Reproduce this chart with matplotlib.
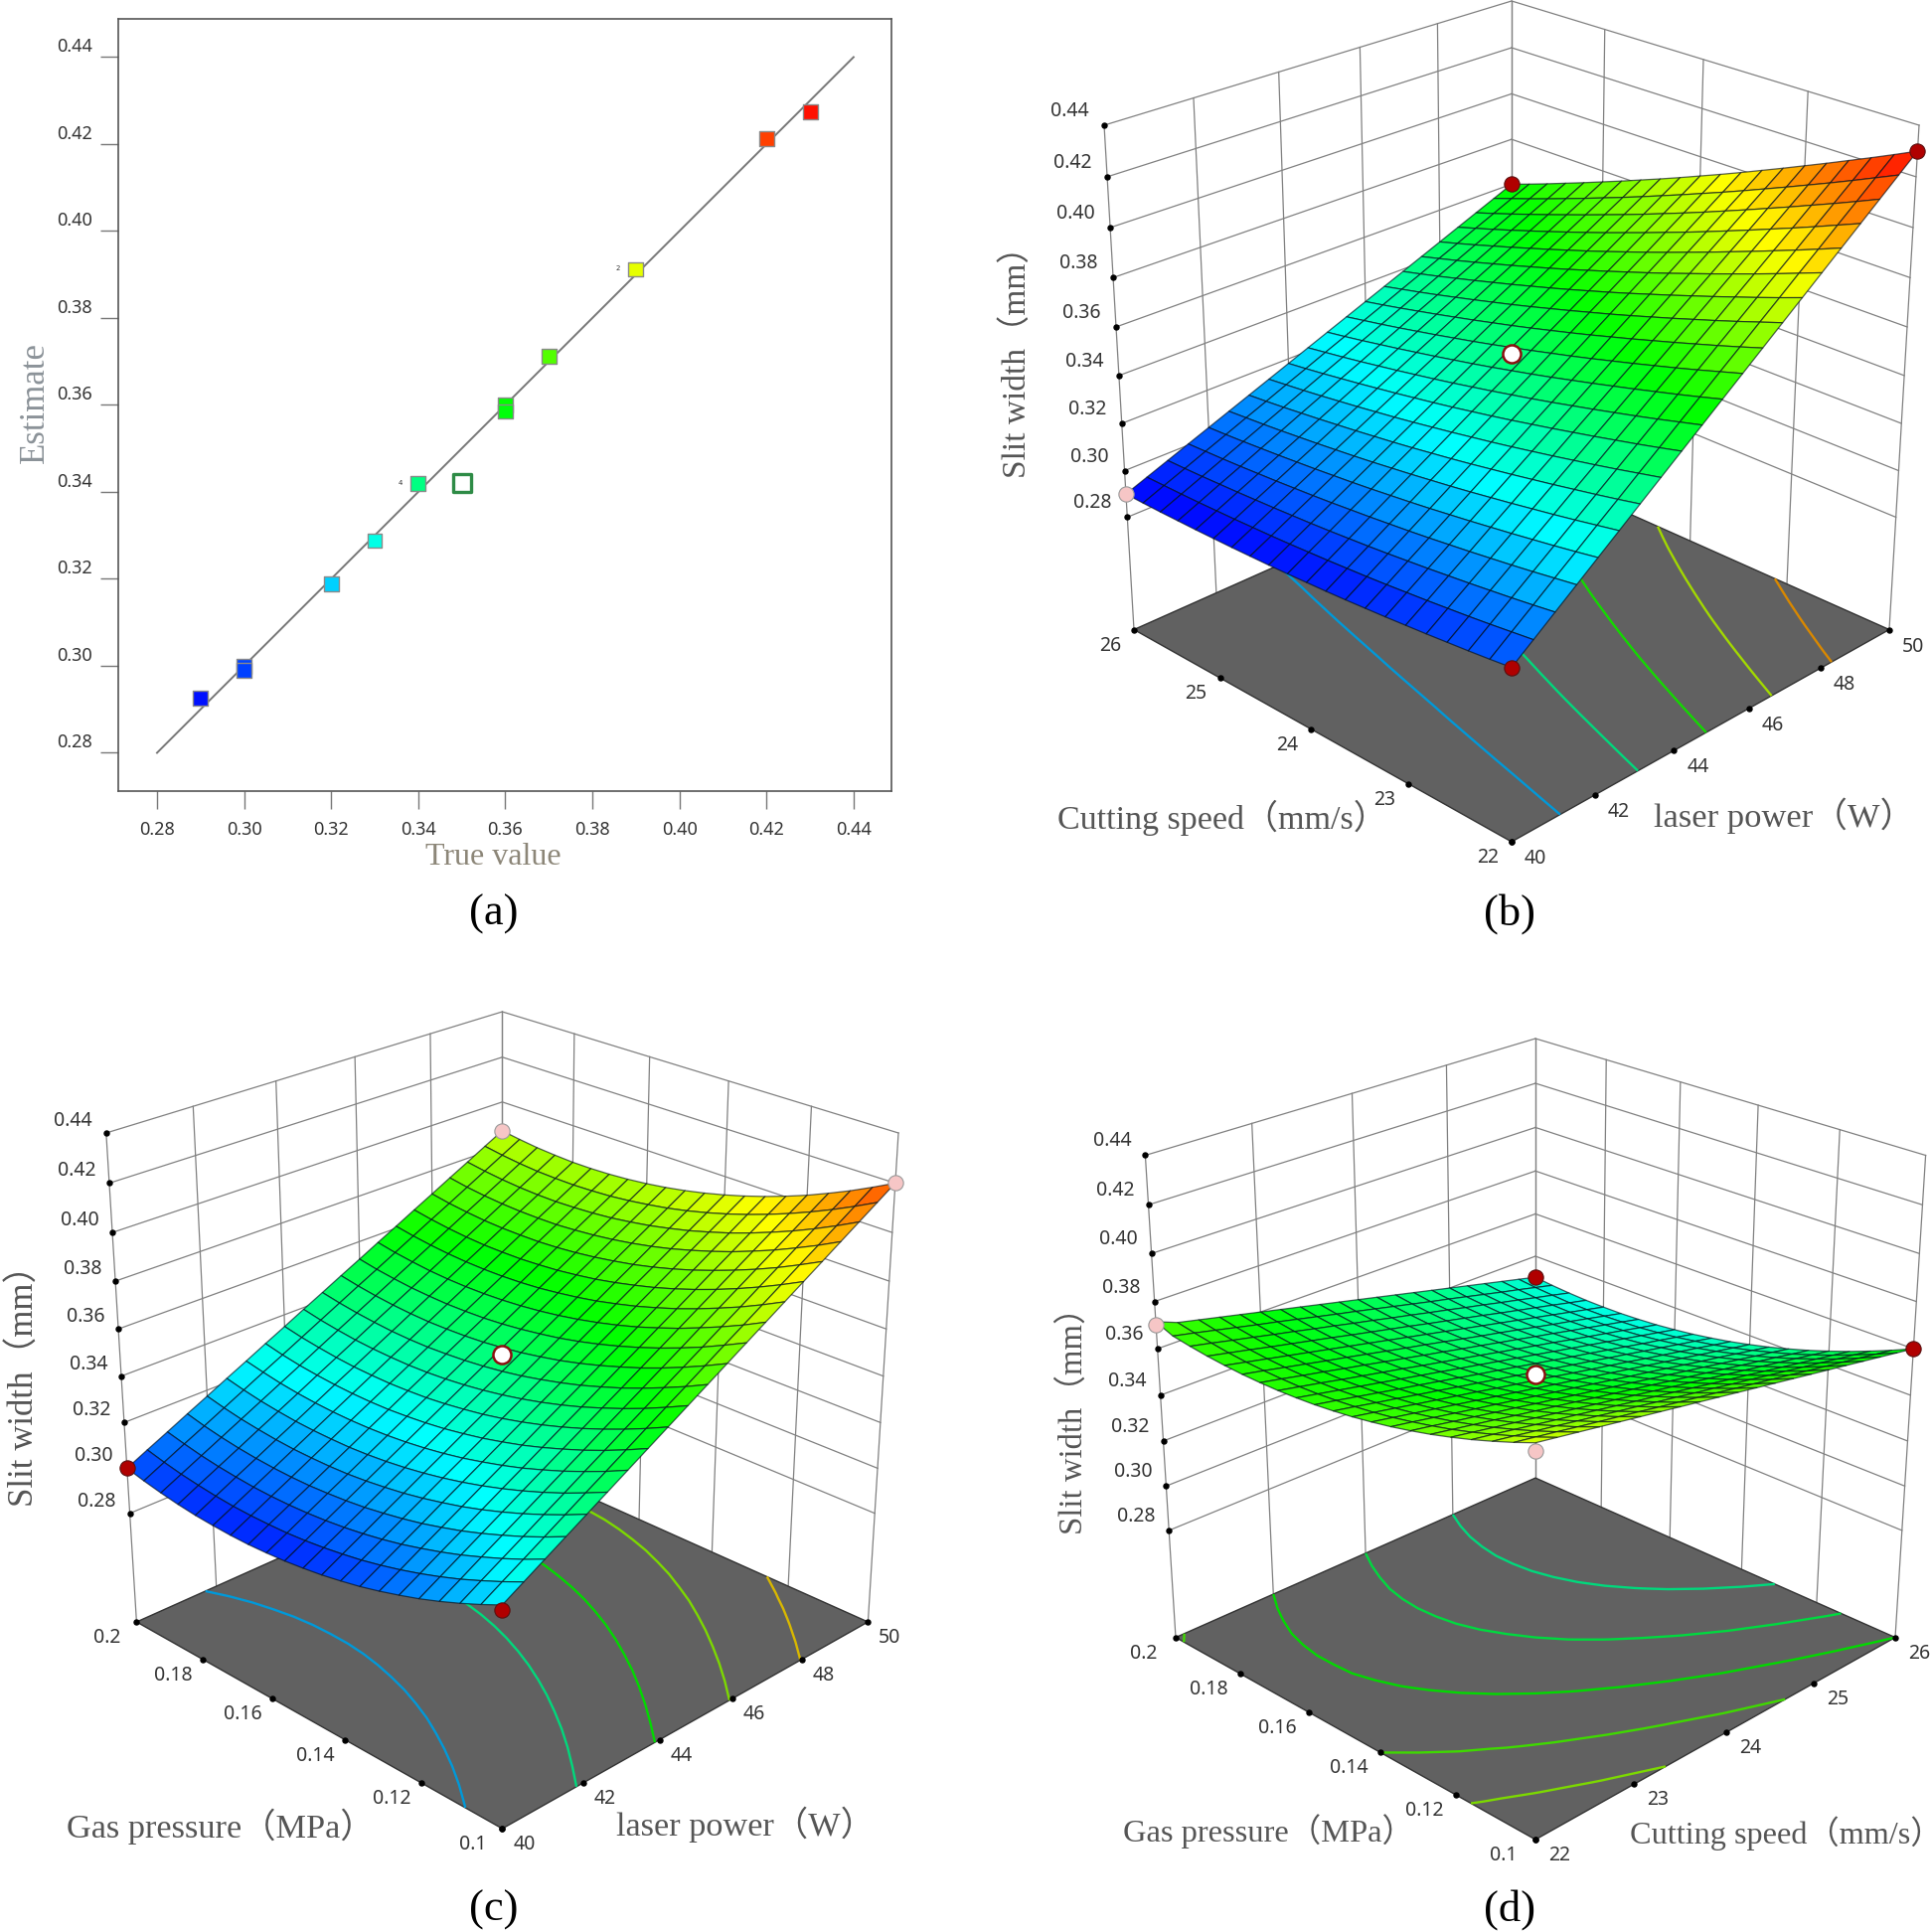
import numpy as np
import matplotlib
matplotlib.use("Agg")
import matplotlib.pyplot as plt
from matplotlib.colors import LinearSegmentedColormap, Normalize
from mpl_toolkits.mplot3d import proj3d

W, H = 1942, 1944
SERIF = ["Liberation Serif", "Noto Sans CJK SC"]
SANS = "Noto Sans"

# panel (a) points
true_vals = [0.29, 0.30, 0.30, 0.32, 0.33, 0.34, 0.36, 0.36, 0.37, 0.39, 0.42, 0.43]
est_vals = [0.2925, 0.2998, 0.299, 0.3188, 0.3288, 0.342, 0.36, 0.3585, 0.3712, 0.3912, 0.4212, 0.4275]
center_true = 0.35
center_est = 0.342
line_ends = [0.28, 0.44]
a_ticks = [0.28, 0.30, 0.32, 0.34, 0.36, 0.38, 0.40, 0.42, 0.44]

z_ticks = [0.28, 0.30, 0.32, 0.34, 0.36, 0.38, 0.40, 0.42, 0.44]
z_floor = 0.2305
z_top = 0.44

power_ticks = [40, 42, 44, 46, 48, 50]
speed_ticks = [22, 23, 24, 25, 26]
gas_ticks = [0.1, 0.12, 0.14, 0.16, 0.18, 0.2]
gas_labels = ["0.1", "0.12", "0.14", "0.16", "0.18", "0.2"]

# surface heights, in 1/10000 mm, rows go along the y axis
slit_b = [
    [3000, 3065, 3130, 3195, 3260, 3325, 3390, 3455, 3520, 3585, 3650, 3715, 3780, 3845, 3910, 3975, 4040, 4105, 4170, 4235, 4300],
    [2989, 3053, 3116, 3180, 3243, 3307, 3370, 3434, 3497, 3561, 3624, 3688, 3751, 3815, 3878, 3942, 4005, 4069, 4132, 4196, 4259],
    [2979, 3041, 3103, 3165, 3227, 3289, 3351, 3413, 3475, 3537, 3599, 3661, 3723, 3785, 3847, 3909, 3971, 4033, 4095, 4157, 4219],
    [2970, 3030, 3091, 3151, 3212, 3272, 3333, 3393, 3454, 3514, 3575, 3635, 3696, 3756, 3817, 3877, 3938, 3998, 4059, 4119, 4180],
    [2961, 3020, 3079, 3138, 3197, 3256, 3315, 3374, 3433, 3492, 3551, 3610, 3669, 3728, 3787, 3846, 3905, 3964, 4023, 4082, 4141],
    [2953, 3010, 3068, 3125, 3183, 3240, 3298, 3355, 3413, 3470, 3528, 3585, 3643, 3700, 3758, 3815, 3873, 3930, 3988, 4045, 4103],
    [2945, 3001, 3057, 3113, 3169, 3225, 3281, 3337, 3393, 3449, 3505, 3561, 3617, 3673, 3729, 3785, 3841, 3897, 3953, 4009, 4065],
    [2938, 2992, 3047, 3101, 3156, 3210, 3265, 3319, 3374, 3428, 3483, 3537, 3592, 3646, 3701, 3755, 3810, 3864, 3919, 3973, 4028],
    [2931, 2984, 3037, 3090, 3143, 3196, 3249, 3302, 3355, 3408, 3461, 3514, 3567, 3620, 3673, 3726, 3779, 3832, 3885, 3938, 3991],
    [2925, 2977, 3028, 3080, 3131, 3183, 3234, 3286, 3337, 3389, 3440, 3492, 3543, 3595, 3646, 3698, 3749, 3801, 3852, 3904, 3955],
    [2920, 2970, 3020, 3070, 3120, 3170, 3220, 3270, 3320, 3370, 3420, 3470, 3520, 3570, 3620, 3670, 3720, 3770, 3820, 3870, 3920],
    [2915, 2964, 3012, 3061, 3109, 3158, 3206, 3255, 3303, 3352, 3400, 3449, 3497, 3546, 3594, 3643, 3691, 3740, 3788, 3837, 3885],
    [2911, 2958, 3005, 3052, 3099, 3146, 3193, 3240, 3287, 3334, 3381, 3428, 3475, 3522, 3569, 3616, 3663, 3710, 3757, 3804, 3851],
    [2908, 2953, 2999, 3044, 3090, 3135, 3181, 3226, 3272, 3317, 3363, 3408, 3454, 3499, 3545, 3590, 3636, 3681, 3727, 3772, 3818],
    [2905, 2949, 2993, 3037, 3081, 3125, 3169, 3213, 3257, 3301, 3345, 3389, 3433, 3477, 3521, 3565, 3609, 3653, 3697, 3741, 3785],
    [2903, 2945, 2988, 3030, 3073, 3115, 3158, 3200, 3243, 3285, 3328, 3370, 3413, 3455, 3498, 3540, 3583, 3625, 3668, 3710, 3753],
    [2901, 2942, 2983, 3024, 3065, 3106, 3147, 3188, 3229, 3270, 3311, 3352, 3393, 3434, 3475, 3516, 3557, 3598, 3639, 3680, 3721],
    [2900, 2939, 2979, 3018, 3058, 3097, 3137, 3176, 3216, 3255, 3295, 3334, 3374, 3413, 3453, 3492, 3532, 3571, 3611, 3650, 3690],
    [2899, 2937, 2975, 3013, 3051, 3089, 3127, 3165, 3203, 3241, 3279, 3317, 3355, 3393, 3431, 3469, 3507, 3545, 3583, 3621, 3659],
    [2899, 2936, 2972, 3009, 3045, 3082, 3118, 3155, 3191, 3228, 3264, 3301, 3337, 3374, 3410, 3447, 3483, 3520, 3556, 3593, 3629],
    [2900, 2935, 2970, 3005, 3040, 3075, 3110, 3145, 3180, 3215, 3250, 3285, 3320, 3355, 3390, 3425, 3460, 3495, 3530, 3565, 3600],
]
slit_c = [
    [3220, 3269, 3318, 3367, 3416, 3465, 3514, 3563, 3612, 3661, 3710, 3759, 3808, 3857, 3906, 3955, 4004, 4053, 4102, 4151, 4200],
    [3180, 3229, 3277, 3326, 3375, 3424, 3472, 3521, 3570, 3619, 3667, 3716, 3765, 3813, 3862, 3911, 3960, 4008, 4057, 4106, 4155],
    [3143, 3192, 3240, 3288, 3337, 3385, 3434, 3482, 3531, 3579, 3628, 3676, 3724, 3773, 3821, 3870, 3918, 3967, 4015, 4064, 4112],
    [3109, 3157, 3206, 3254, 3302, 3350, 3398, 3446, 3495, 3543, 3591, 3639, 3687, 3736, 3784, 3832, 3880, 3928, 3976, 4025, 4073],
    [3078, 3126, 3174, 3222, 3270, 3318, 3366, 3414, 3462, 3510, 3557, 3605, 3653, 3701, 3749, 3797, 3845, 3893, 3941, 3989, 4036],
    [3051, 3098, 3146, 3193, 3241, 3289, 3336, 3384, 3432, 3479, 3527, 3575, 3622, 3670, 3717, 3765, 3813, 3860, 3908, 3956, 4003],
    [3026, 3073, 3121, 3168, 3215, 3263, 3310, 3357, 3405, 3452, 3499, 3547, 3594, 3641, 3689, 3736, 3783, 3831, 3878, 3926, 3973],
    [3004, 3051, 3098, 3145, 3193, 3240, 3287, 3334, 3381, 3428, 3475, 3522, 3569, 3616, 3663, 3710, 3757, 3805, 3852, 3899, 3946],
    [2986, 3032, 3079, 3126, 3173, 3220, 3266, 3313, 3360, 3407, 3454, 3500, 3547, 3594, 3641, 3688, 3734, 3781, 3828, 3875, 3922],
    [2970, 3017, 3063, 3110, 3156, 3203, 3249, 3296, 3342, 3389, 3435, 3482, 3528, 3575, 3621, 3668, 3714, 3761, 3808, 3854, 3901],
    [2958, 3004, 3050, 3096, 3143, 3189, 3235, 3281, 3328, 3374, 3420, 3466, 3513, 3559, 3605, 3651, 3698, 3744, 3790, 3836, 3883],
    [2948, 2994, 3040, 3086, 3132, 3178, 3224, 3270, 3316, 3362, 3408, 3454, 3500, 3546, 3592, 3638, 3684, 3730, 3776, 3822, 3868],
    [2942, 2987, 3033, 3079, 3124, 3170, 3216, 3262, 3307, 3353, 3399, 3444, 3490, 3536, 3581, 3627, 3673, 3719, 3764, 3810, 3856],
    [2938, 2984, 3029, 3074, 3120, 3165, 3211, 3256, 3302, 3347, 3393, 3438, 3483, 3529, 3574, 3620, 3665, 3711, 3756, 3801, 3847],
    [2938, 2983, 3028, 3073, 3119, 3164, 3209, 3254, 3299, 3344, 3389, 3435, 3480, 3525, 3570, 3615, 3660, 3705, 3751, 3796, 3841],
    [2941, 2985, 3030, 3075, 3120, 3165, 3210, 3255, 3300, 3345, 3389, 3434, 3479, 3524, 3569, 3614, 3659, 3704, 3748, 3793, 3838],
    [2946, 2991, 3036, 3080, 3125, 3169, 3214, 3259, 3303, 3348, 3392, 3437, 3482, 3526, 3571, 3615, 3660, 3705, 3749, 3794, 3838],
    [2955, 3000, 3044, 3088, 3133, 3177, 3221, 3266, 3310, 3354, 3399, 3443, 3487, 3531, 3576, 3620, 3664, 3709, 3753, 3797, 3842],
    [2967, 3011, 3055, 3099, 3143, 3187, 3231, 3275, 3320, 3364, 3408, 3452, 3496, 3540, 3584, 3628, 3672, 3716, 3760, 3804, 3848],
    [2982, 3026, 3070, 3113, 3157, 3201, 3245, 3288, 3332, 3376, 3420, 3464, 3507, 3551, 3595, 3639, 3682, 3726, 3770, 3814, 3858],
    [3000, 3044, 3087, 3131, 3174, 3218, 3261, 3305, 3348, 3392, 3435, 3479, 3522, 3566, 3609, 3653, 3696, 3740, 3783, 3827, 3870],
]
slit_d = [
    [3900, 3885, 3870, 3855, 3840, 3825, 3810, 3795, 3780, 3765, 3750, 3735, 3720, 3705, 3690, 3675, 3660, 3645, 3630, 3615, 3600],
    [3866, 3851, 3836, 3820, 3805, 3790, 3775, 3759, 3744, 3729, 3714, 3698, 3683, 3668, 3653, 3637, 3622, 3607, 3592, 3576, 3561],
    [3835, 3820, 3804, 3789, 3773, 3758, 3742, 3727, 3711, 3696, 3680, 3665, 3649, 3634, 3618, 3603, 3587, 3572, 3556, 3541, 3525],
    [3806, 3791, 3775, 3759, 3743, 3728, 3712, 3696, 3680, 3665, 3649, 3633, 3617, 3601, 3586, 3570, 3554, 3538, 3523, 3507, 3491],
    [3780, 3764, 3748, 3732, 3716, 3700, 3684, 3668, 3652, 3636, 3620, 3604, 3588, 3572, 3556, 3540, 3524, 3508, 3492, 3476, 3460],
    [3756, 3740, 3724, 3708, 3691, 3675, 3659, 3643, 3626, 3610, 3594, 3578, 3561, 3545, 3529, 3512, 3496, 3480, 3464, 3447, 3431],
    [3735, 3719, 3702, 3686, 3669, 3653, 3636, 3620, 3603, 3587, 3570, 3554, 3537, 3521, 3504, 3488, 3471, 3455, 3438, 3422, 3405],
    [3716, 3700, 3683, 3666, 3649, 3633, 3616, 3599, 3582, 3566, 3549, 3532, 3515, 3499, 3482, 3465, 3448, 3432, 3415, 3398, 3381],
    [3700, 3683, 3666, 3649, 3632, 3615, 3598, 3581, 3564, 3547, 3530, 3513, 3496, 3479, 3462, 3445, 3428, 3411, 3394, 3377, 3360],
    [3686, 3669, 3652, 3634, 3617, 3600, 3583, 3565, 3548, 3531, 3514, 3496, 3479, 3462, 3445, 3427, 3410, 3393, 3376, 3358, 3341],
    [3675, 3658, 3640, 3623, 3605, 3588, 3570, 3553, 3535, 3518, 3500, 3483, 3465, 3448, 3430, 3413, 3395, 3378, 3360, 3343, 3325],
    [3666, 3649, 3631, 3613, 3595, 3578, 3560, 3542, 3524, 3507, 3489, 3471, 3453, 3435, 3418, 3400, 3382, 3364, 3347, 3329, 3311],
    [3660, 3642, 3624, 3606, 3588, 3570, 3552, 3534, 3516, 3498, 3480, 3462, 3444, 3426, 3408, 3390, 3372, 3354, 3336, 3318, 3300],
    [3656, 3638, 3620, 3601, 3583, 3565, 3547, 3528, 3510, 3492, 3474, 3455, 3437, 3419, 3401, 3382, 3364, 3346, 3328, 3309, 3291],
    [3655, 3637, 3618, 3600, 3581, 3563, 3544, 3526, 3507, 3489, 3470, 3452, 3433, 3415, 3396, 3378, 3359, 3341, 3322, 3304, 3285],
    [3656, 3638, 3619, 3600, 3581, 3563, 3544, 3525, 3506, 3488, 3469, 3450, 3431, 3413, 3394, 3375, 3356, 3338, 3319, 3300, 3281],
    [3660, 3641, 3622, 3603, 3584, 3565, 3546, 3527, 3508, 3489, 3470, 3451, 3432, 3413, 3394, 3375, 3356, 3337, 3318, 3299, 3280],
    [3666, 3647, 3628, 3608, 3589, 3570, 3551, 3531, 3512, 3493, 3474, 3454, 3435, 3416, 3397, 3377, 3358, 3339, 3320, 3300, 3281],
    [3675, 3656, 3636, 3617, 3597, 3578, 3558, 3539, 3519, 3500, 3480, 3461, 3441, 3422, 3402, 3383, 3363, 3344, 3324, 3305, 3285],
    [3686, 3667, 3647, 3627, 3607, 3588, 3568, 3548, 3528, 3509, 3489, 3469, 3449, 3429, 3410, 3390, 3370, 3350, 3331, 3311, 3291],
    [3715, 3680, 3660, 3640, 3620, 3600, 3580, 3560, 3540, 3520, 3500, 3480, 3460, 3440, 3420, 3400, 3380, 3360, 3340, 3320, 3300],
]

levels_b = [0.315, 0.34, 0.363, 0.386, 0.408]
levels_c = [0.315, 0.34, 0.36, 0.38, 0.40]
levels_d = [0.34, 0.35, 0.36, 0.37, 0.38]

# design points: x, y, z
red_b = [(40, 22, 0.30), (50, 26, 0.36), (50, 22, 0.43)]
pink_b = [(40, 26, 0.29)]
center_b = (45, 24, 0.349)
red_c = [(40, 0.1, 0.32), (40, 0.2, 0.30)]
pink_c = [(50, 0.2, 0.387), (50, 0.1, 0.42)]
center_c = (45, 0.15, 0.349)
red_d = [(26, 0.2, 0.33), (26, 0.1, 0.36)]
pink_d = [(22, 0.2, 0.37), (22, 0.1, 0.387)]
center_d = (24, 0.15, 0.349)

cmap = LinearSegmentedColormap.from_list("de", ["#0000ff", "#00ffff", "#00ff00", "#ffff00", "#ff0000"])
norm = Normalize(0.29, 0.43)

fig = plt.figure(figsize=(W / 100, H / 100), dpi=100, facecolor="white")


def px_text(x, y, s, **kw):
    fig.text(x / W, 1 - y / H, s, ha="center", va="center", **kw)


# ---------- panel (a) ----------
ax = fig.add_axes([119 / W, 1 - 796 / H, (897 - 119) / W, (796 - 19.4) / H])
ax.set_xlim(0.2711, 0.4487)
ax.set_ylim(0.2712, 0.4487)
ax.plot(line_ends, line_ends, color="#777777", lw=1.4, zorder=1)
ax.scatter(true_vals, est_vals, c=est_vals, cmap=cmap, norm=norm, marker="s", s=115,
           edgecolors="#8a8a8a", linewidths=1.0, zorder=2)
ax.scatter([center_true], [center_est], marker="s", s=170, facecolors="white",
           edgecolors="#2e8b46", linewidths=2.4, zorder=2)
ax.set_xticks(a_ticks)
ax.set_yticks(a_ticks)
ax.tick_params(length=13, width=1, color="#777777", labelbottom=False, labelleft=False)
for s in ax.spines.values():
    s.set_color("#555555")
    s.set_linewidth(1.2)
for v in a_ticks:
    ax.annotate("%.2f" % v, (v, 0), xycoords=("data", "axes fraction"), xytext=(0, -39),
                textcoords="offset pixels", ha="center", va="center", fontsize=13, family=SANS, color="#333333")
    ax.annotate("%.2f" % v, (0, v), xycoords=("axes fraction", "data"), xytext=(-44, 10),
                textcoords="offset pixels", ha="center", va="center", fontsize=13, family=SANS, color="#333333")
ax.text(0.3359, 0.342, "4", fontsize=5, ha="center", va="center", color="#333333")
ax.text(0.3858, 0.3915, "2", fontsize=5, ha="center", va="center", color="#333333")
px_text(496, 862, "True value", fontsize=23, family=SERIF, color="#8c8678")
px_text(35, 405, "Estimate", fontsize=25, family=SERIF, color="#8b9298", rotation=90)


def fit_view(hw_floor, hw_top, y_floor, y_top, y_front, y_topback):
    # camera from the box corners as measured in pixels
    eta = (hw_top - hw_floor) / (hw_top + hw_floor)
    ax_scale = hw_floor * (1 + eta)
    k1, k2 = 1 / (1 + eta), 1 / (1 - eta)
    bu = (y_floor - y_top) / (k1 + k2)
    cy = y_floor - bu * k1
    a, t = y_front - cy, cy - y_topback
    q = (a * (1 + eta) - t * (1 - eta)) / (a + t)
    bp = a * (1 + eta - q) - bu
    h = np.sqrt((bu / bp) * (eta / q))
    tan_e = (eta / q) / h
    e = np.arctan(tan_e)
    dist = np.cos(e) / q
    ay_scale = bp / np.sin(e)
    return np.degrees(e), dist, 2 * h / np.sqrt(2), ax_scale, ay_scale, cy


def panel_3d(cx, corners, xr, yr, xticks, yticks, xlabels, ylabels, slit, levels, red, pink, center, pink_under,
             ztick_off, ylab_off, xlab_off):
    elev, dist, hz, ax_scale, ay_scale, cy = fit_view(*corners)
    ax = fig.add_axes([0, 0, 1, 1], projection="3d", computed_zorder=False)
    ax.apply_aspect = lambda position=None: None
    ax.set_box_aspect((1, 1, hz))
    rho = ax._box_aspect[0] / np.sqrt(2)
    ax.view_init(elev=elev, azim=-135)
    ax.set_proj_type("persp", focal_length=dist * rho / 10)
    ax.set_axis_off()
    ax.set_facecolor("none")
    ax.patch.set_visible(False)

    x = np.linspace(xr[0], xr[1], 21)
    y = np.linspace(yr[0], yr[1], 21)
    X, Y = np.meshgrid(x, y)
    Z = np.array(slit) / 10000.0
    x0, x1 = xr
    y0, y1 = yr

    # back walls
    for t in xticks:
        ax.plot([t, t], [y1, y1], [z_floor, z_top], color="#808080", lw=0.9, zorder=1)
    for t in yticks:
        ax.plot([x1, x1], [t, t], [z_floor, z_top], color="#808080", lw=0.9, zorder=1)
    for z in z_ticks:
        ax.plot([x0, x1], [y1, y1], [z, z], color="#808080", lw=0.9, zorder=1)
        ax.plot([x1, x1], [y0, y1], [z, z], color="#808080", lw=0.9, zorder=1)

    # floor with contours
    ax.plot_surface(np.array([[x0, x1], [x0, x1]]), np.array([[y0, y0], [y1, y1]]), np.full((2, 2), z_floor),
                    color="#616161", shade=False, edgecolor="none", zorder=2)
    ax.plot([x0, x1, x1, x0, x0], [y0, y0, y1, y1, y0], [z_floor] * 5, color="#333333", lw=1.0, zorder=2.5)
    cols = [tuple(0.85 * c for c in cmap(norm(v))[:3]) for v in levels]
    ax.contour(X, Y, Z, levels=levels, colors=cols, zdir="z", offset=z_floor, linewidths=1.7, zorder=3)

    for px, py, pz in pink_under:
        ax.plot([px], [py], [pz], "o", ms=11, mfc="#f6c6c6", mec="#999999", mew=0.8, zorder=4)

    # tick dots
    ax.plot([x0] * len(z_ticks), [y1] * len(z_ticks), z_ticks, "o", ms=3.6, color="black", zorder=4.5)
    ax.plot(xticks, [y0] * len(xticks), [z_floor] * len(xticks), "o", ms=3.6, color="black", zorder=4.5)
    ax.plot([x0] * len(yticks), yticks, [z_floor] * len(yticks), "o", ms=3.6, color="black", zorder=4.5)

    ax.plot_surface(X, Y, Z, cmap=cmap, norm=norm, rstride=1, cstride=1, shade=False,
                    edgecolor=(0, 0.05, 0.1, 0.65), linewidth=0.9, antialiased=True, zorder=5)

    for px, py, pz in red:
        ax.plot([px], [py], [pz], "o", ms=11, mfc="#b00000", mec="#5a1010", mew=0.8, zorder=6)
    for px, py, pz in pink:
        ax.plot([px], [py], [pz], "o", ms=11, mfc="#f6c6c6", mec="#999999", mew=0.8, zorder=6)
    ax.plot([center[0]], [center[1]], [center[2]], "o", ms=13, mfc="white", mec="#8a1010", mew=1.8, zorder=7)

    ax.set_xlim(x0, x1)
    ax.set_ylim(y0, y1)
    ax.set_zlim(z_floor, z_top)

    # place the axes so the view lands on the measured pixels
    ax.viewLim.intervalx = (-0.1, 0.1)
    ax.viewLim.intervaly = (-0.1, 0.1)
    sx = ax_scale / (rho / 10)
    sy = ay_scale / (rho / 10)
    ax.set_position([(cx - 0.1 * sx) / W, 1 - (cy + 0.1 * sy) / H, 0.2 * sx / W, 0.2 * sy / H])

    M = ax.get_proj()

    def lab(px, py, pz, s, off):
        u, v, _ = proj3d.proj_transform(px, py, pz, M)
        ax.annotate(s, (u, v), xytext=off, textcoords="offset pixels", ha="center", va="center",
                    fontsize=14, family=SANS, color="#333333", annotation_clip=False, zorder=9)

    for z in z_ticks:
        lab(x0, y1, z, "%.2f" % z, ztick_off)
    for t, s in zip(xticks, xlabels):
        lab(t, y0, z_floor, s, xlab_off)
    for t, s in zip(yticks, ylabels):
        lab(x0, t, z_floor, s, ylab_off)
    return ax


power_labels = [str(v) for v in power_ticks]
speed_labels = [str(v) for v in speed_ticks]

# ---------- panel (b) ----------
panel_3d(1521, (380, 410, 633.5, 126, 847, 1), (40, 50), (22, 26), power_ticks, speed_ticks,
         power_labels, speed_labels, slit_b, levels_b, red_b, pink_b, center_b, [],
         (-35, 14), (-24, -16), (24, -17))
px_text(1023, 356, "Slit width（mm）", fontsize=24, family=SERIF, color="#555555", rotation=90)
px_text(1230, 823, "Cutting speed（mm/s）", fontsize=24.5, family=SERIF, color="#555555")
px_text(1795, 821, "laser power（W）", fontsize=24.8, family=SERIF, color="#555555")

# ---------- panel (c) ----------
panel_3d(505.4, (368, 398.6, 1632, 1140, 1840, 1018), (40, 50), (0.1, 0.2), power_ticks, gas_ticks,
         power_labels, gas_labels, slit_c, levels_c, red_c, pink_c, center_c, [],
         (-33, 12), (-30, -16), (22, -16))
px_text(25, 1386, "Slit width（mm）", fontsize=25, family=SERIF, color="#555555", rotation=90)
px_text(222, 1838, "Gas pressure（MPa）", fontsize=24.7, family=SERIF, color="#555555")
px_text(750, 1836, "laser power（W）", fontsize=24.7, family=SERIF, color="#555555")

# ---------- panel (d) ----------
panel_3d(1545, (362, 392.6, 1647.6, 1162.5, 1851, 1045), (22, 26), (0.1, 0.2), speed_ticks, gas_ticks,
         speed_labels, gas_labels, slit_d, levels_d, red_d, pink_d[:1], center_d, pink_d[1:],
         (-33, 14), (-32, -16), (24, -16))
px_text(1080, 1422, "Slit width（mm）", fontsize=23.6, family=SERIF, color="#555555", rotation=90)
px_text(1277, 1843, "Gas pressure（MPa）", fontsize=23.4, family=SERIF, color="#555555")
px_text(1797, 1845, "Cutting speed（mm/s）", fontsize=23.2, family=SERIF, color="#555555")

for cap, cx, cy in [("(a)", 497, 920), ("(b)", 1519, 920), ("(c)", 497, 1922), ("(d)", 1519, 1922)]:
    px_text(cx, cy, cap, fontsize=32, family=SERIF, color="black")

fig.savefig("out.png", dpi=100)
